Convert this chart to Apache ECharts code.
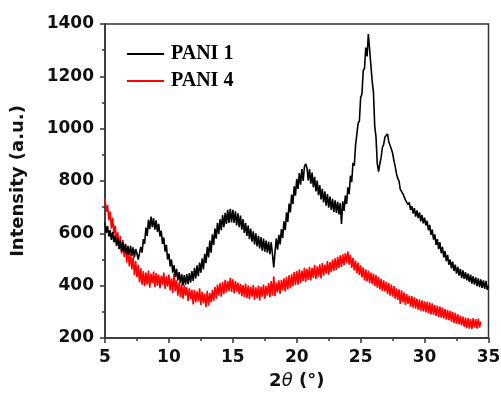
<!DOCTYPE html>
<html>
<head>
<meta charset="utf-8">
<script src="https://cdn.jsdelivr.net/npm/echarts@6/dist/echarts.min.js"></script>
<style>html,body{margin:0;padding:0;background:#fff}#c{width:501px;height:395px}</style>
</head>
<body>
<div id="c"></div>
<script>
// Sampling grid: 2θ from 5° in 0.1° steps
const angleStart = 5;
const angleStep = 0.1;
const seriesNames = ['PANI 1', 'PANI 4'];
const xTicks = [5, 10, 15, 20, 25, 30, 35];
const yTicks = [200, 400, 600, 800, 1000, 1200, 1400];

// PANI 1 intensity, 5.0° .. 35.0°
const pani1 = [
  640, 602, 628, 588, 612, 575, 606, 566, 592, 552,
  582, 540, 572, 530, 566, 528, 560, 520, 552, 518,
  552, 514, 546, 508, 540, 522, 500, 498, 548, 526,
  578, 560, 622, 590, 652, 616, 664, 624, 658, 614,
  650, 606, 636, 588, 610, 560, 584, 530, 556, 500,
  522, 474, 500, 450, 478, 434, 464, 420, 452, 410,
  444, 402, 440, 404, 444, 406, 448, 412, 456, 418,
  468, 428, 478, 436, 488, 450, 504, 462, 522, 486,
  548, 508, 572, 526, 596, 556, 618, 580, 640, 598,
  654, 612, 670, 624, 678, 636, 690, 640, 694, 642,
  690, 640, 684, 630, 676, 624, 668, 614, 654, 602,
  640, 590, 630, 578, 618, 568, 608, 558, 600, 550,
  590, 542, 586, 534, 580, 530, 572, 526, 568, 520,
  566, 520, 470, 528, 580, 538, 594, 558, 616, 582,
  646, 612, 680, 644, 714, 680, 748, 712, 780, 744,
  808, 770, 830, 786, 846, 800, 854, 866, 850, 802,
  846, 790, 832, 776, 816, 760, 802, 746, 784, 730,
  770, 718, 760, 706, 750, 698, 740, 690, 732, 682,
  726, 678, 720, 672, 716, 636, 722, 686, 744, 712,
  776, 750, 820, 796, 870, 858, 936, 934, 1020, 1030,
  1120, 1132, 1222, 1230, 1310, 1276, 1362, 1302, 1296, 1182,
  1140, 1010, 968, 866, 836, 866, 890, 928, 940, 968,
  962, 980, 950, 948, 922, 906, 878, 856, 828, 810,
  800, 768, 774, 752, 752, 728, 734, 710, 718, 690,
  704, 676, 696, 664, 688, 658, 680, 646, 670, 638,
  660, 630, 648, 612, 632, 594, 614, 576, 596, 556,
  578, 540, 566, 524, 548, 508, 532, 494, 518, 480,
  500, 466, 492, 456, 480, 446, 472, 438, 464, 430,
  458, 426, 452, 420, 446, 414, 442, 408, 436, 404,
  432, 398, 428, 394, 424, 392, 420, 388, 418, 384,
  400
];

// PANI 4 intensity, 5.0° .. 34.4°
const pani4 = [
  732, 682, 708, 650, 684, 618, 660, 596, 630, 570,
  604, 548, 590, 522, 574, 510, 556, 488, 540, 474,
  522, 462, 510, 440, 494, 432, 480, 412, 466, 404,
  456, 398, 450, 404, 458, 392, 446, 410, 454, 394,
  448, 400, 442, 390, 438, 404, 450, 388, 436, 396,
  442, 382, 428, 372, 446, 378, 420, 362, 412, 356,
  408, 350, 402, 362, 394, 342, 390, 348, 384, 328,
  384, 336, 378, 340, 390, 326, 376, 332, 370, 318,
  380, 324, 372, 336, 384, 342, 396, 350, 404, 362,
  410, 358, 414, 368, 422, 374, 418, 380, 430, 376,
  424, 370, 418, 376, 412, 368, 406, 360, 402, 356,
  408, 352, 400, 348, 396, 358, 402, 346, 394, 352,
  400, 344, 396, 358, 404, 350, 398, 362, 410, 356,
  418, 362, 436, 360, 412, 374, 420, 368, 422, 382,
  428, 378, 434, 386, 440, 390, 444, 398, 452, 402,
  456, 404, 462, 410, 458, 418, 468, 414, 464, 422,
  472, 420, 468, 430, 480, 426, 474, 434, 482, 428,
  486, 438, 480, 446, 494, 442, 490, 452, 500, 456,
  504, 460, 510, 468, 516, 472, 520, 478, 524, 486,
  530, 480, 518, 468, 506, 458, 496, 448, 488, 440,
  478, 432, 470, 420, 462, 416, 458, 410, 450, 406,
  446, 398, 440, 392, 434, 386, 426, 380, 420, 378,
  414, 368, 410, 362, 404, 358, 398, 350, 390, 346,
  386, 330, 382, 336, 374, 326, 368, 330, 362, 320,
  360, 316, 356, 312, 350, 308, 348, 304, 344, 302,
  340, 298, 338, 294, 336, 290, 332, 288, 326, 284,
  324, 280, 320, 278, 316, 274, 310, 270, 308, 268,
  304, 262, 300, 258, 296, 254, 290, 252, 286, 248,
  282, 242, 278, 238, 276, 236, 272, 234, 276, 240,
  272, 236, 274, 240, 262
];

function pairs(vals) {
  return vals.map((v, i) => [+(angleStart + i * angleStep).toFixed(1), v]);
}

const chart = echarts.init(document.getElementById('c'), null, {renderer: 'canvas'});
const axisColor = '#333';
const tickFont = {fontFamily: 'DejaVu Sans', fontWeight: 'bold', fontSize: 17, color: '#111'};

chart.setOption({
  animation: false,
  backgroundColor: '#fff',
  grid: {left: 105, right: 12.5, top: 24, bottom: 57, outerBoundsMode: 'none', containLabel: false,
    show: true, borderColor: axisColor, borderWidth: 1.5, backgroundColor: 'transparent'},
  legend: {
    orient: 'vertical',
    left: 122,
    top: 39,
    icon: 'rect',
    itemWidth: 37,
    itemHeight: 2,
    itemGap: 7,
    data: seriesNames,
    textStyle: {fontFamily: 'Liberation Serif', fontWeight: 'bold', fontSize: 20, color: '#000', lineHeight: 20, padding: [0, 0, 0, 2]}
  },
  xAxis: {
    type: 'value',
    min: xTicks[0],
    max: xTicks[xTicks.length - 1],
    interval: 5,
    name: '2{i|θ} (°)',
    nameLocation: 'middle',
    nameGap: 34,
    nameTextStyle: {fontFamily: 'DejaVu Sans', fontWeight: 'bold', fontSize: 18, color: '#111',
      rich: {i: {fontFamily: 'DejaVu Sans', fontStyle: 'italic', fontWeight: 'normal', fontSize: 18, color: '#111'}}},
    axisLine: {show: true, lineStyle: {color: axisColor, width: 1.5}},
    axisTick: {show: true, inside: false, length: 5, lineStyle: {color: axisColor, width: 1.5}},
    minorTick: {show: true, splitNumber: 2, length: 3, lineStyle: {color: axisColor, width: 1.5}},
    axisLabel: Object.assign({margin: 11, formatter: v => String(v)}, tickFont),
    splitLine: {show: false}
  },
  yAxis: {
    type: 'value',
    min: yTicks[0],
    max: yTicks[yTicks.length - 1],
    interval: 200,
    name: 'Intensity (a.u.)',
    nameLocation: 'middle',
    nameGap: 78,
    nameTextStyle: {fontFamily: 'DejaVu Sans', fontWeight: 'bold', fontSize: 18, color: '#111'},
    axisLine: {show: true, lineStyle: {color: axisColor, width: 1.5}},
    axisTick: {show: true, inside: false, length: 5, lineStyle: {color: axisColor, width: 1.5}},
    minorTick: {show: true, splitNumber: 2, length: 3, lineStyle: {color: axisColor, width: 1.5}},
    axisLabel: Object.assign({margin: 11, formatter: v => String(v)}, tickFont),
    splitLine: {show: false}
  },
  series: [
    {name: seriesNames[0], type: 'line', data: pairs(pani1), showSymbol: false, symbol: 'none',
      lineStyle: {color: '#000', width: 1.6}, itemStyle: {color: '#000'}, z: 3},
    {name: seriesNames[1], type: 'line', data: pairs(pani4), showSymbol: false, symbol: 'none',
      lineStyle: {color: '#ff0000', width: 1.6}, itemStyle: {color: '#ff0000'}, z: 2}
  ]
});
</script>
</body>
</html>
